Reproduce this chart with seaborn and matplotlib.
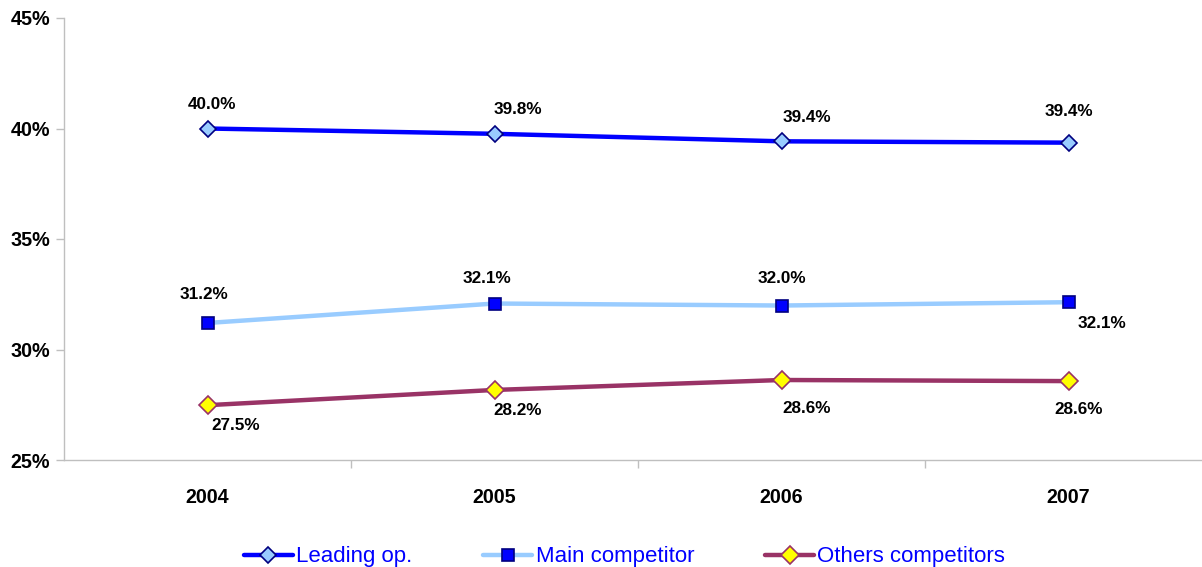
import matplotlib
matplotlib.use("Agg")
import matplotlib.pyplot as plt
import pandas as pd
import seaborn as sns
from matplotlib.ticker import FixedLocator, FuncFormatter

years = ["2004", "2005", "2006", "2007"]
leading_op = [40.0, 39.76, 39.42, 39.36]
main_competitor = [31.2, 32.08, 31.99, 32.14]
others_competitors = [27.48, 28.17, 28.62, 28.57]
series_names = ["Leading op.", "Main competitor", "Others competitors"]

df = pd.DataFrame({
    "year": years * 3,
    "share": leading_op + main_competitor + others_competitors,
    "series": [n for n in series_names for _ in years],
})

styles = {
    "Leading op.": dict(color="#0000FF", marker="D", mfc="#99CCFF", mec="#000080", ms=8),
    "Main competitor": dict(color="#99CCFF", marker="s", mfc="#0000FF", mec="#000080", ms=9),
    "Others competitors": dict(color="#993366", marker="D", mfc="#FFFF00", mec="#993366", ms=9),
}
# label offsets in pixels (dx, dy), one per point
label_offsets = {
    "Leading op.": [(4, 24), (23, 24), (25, 24), (0, 31)],
    "Main competitor": [(-4, 28), (-8, 25), (0, 27), (33, -21)],
    "Others competitors": [(28, -20), (23, -21), (25, -29), (10, -28)],
}

sns.set_theme(style="white")
plt.rcParams["font.family"] = ["Liberation Sans", "DejaVu Sans"]
plt.rcParams["text.color"] = "black"
plt.rcParams["xtick.labelcolor"] = "black"
plt.rcParams["ytick.labelcolor"] = "black"

fig = plt.figure(figsize=(12.02, 5.67), dpi=100)
ax = fig.add_axes([64 / 1202, 1 - 460 / 567, 1148 / 1202, 442 / 567])

for name in series_names:
    st = styles[name]
    sub = df[df["series"] == name]
    sns.lineplot(data=sub, x="year", y="share", ax=ax, color=st["color"], linewidth=3.2,
                 marker=st["marker"], markersize=st["ms"], markerfacecolor=st["mfc"],
                 markeredgecolor=st["mec"], markeredgewidth=1.2, label=name, sort=False)
    for i, v in enumerate(sub["share"]):
        dx, dy = label_offsets[name][i]
        ax.annotate(f"{v:.1f}%", (i, v), xytext=(dx * 0.72, dy * 0.72), textcoords="offset points",
                    ha="center", va="center", fontsize=12.3, fontweight="bold", color="black")

ax.set_xlim(-0.5, 3.5)
ax.set_ylim(25, 45)
ax.set_yticks([25, 30, 35, 40, 45])
ax.yaxis.set_major_formatter(FuncFormatter(lambda v, _: f"{v:.0f}%"))
ax.set_xticks(range(len(years)))
ax.set_xticklabels(years)
ax.xaxis.set_minor_locator(FixedLocator([0.5, 1.5, 2.5]))
ax.tick_params(axis="x", which="major", length=0, pad=20, labelsize=14.2, labelcolor="black")
ax.tick_params(axis="x", which="minor", length=6, color="#BFBFBF", width=1, direction="out", bottom=True)
ax.tick_params(axis="y", length=6, color="#BFBFBF", width=1, direction="out", left=True,
               labelsize=14.2, pad=4, labelcolor="black")
for lab in ax.get_xticklabels() + ax.get_yticklabels():
    lab.set_fontweight("bold")
ax.set_xlabel("")
ax.set_ylabel("")
for side in ["top", "right"]:
    ax.spines[side].set_visible(False)
for side in ["left", "bottom"]:
    ax.spines[side].set_color("#BFBFBF")
    ax.spines[side].set_linewidth(1)
ax.grid(False)

handles, labels = ax.get_legend_handles_labels()
ax.legend_.remove()
leg = fig.legend(handles, labels, loc="center", bbox_to_anchor=(0.5196, 0.018), ncol=3,
                 frameon=False, fontsize=16, handlelength=2.2, handletextpad=0.15, columnspacing=3.2)
for t in leg.get_texts():
    t.set_color("#0000FF")

fig.savefig("out.png", dpi=100)
